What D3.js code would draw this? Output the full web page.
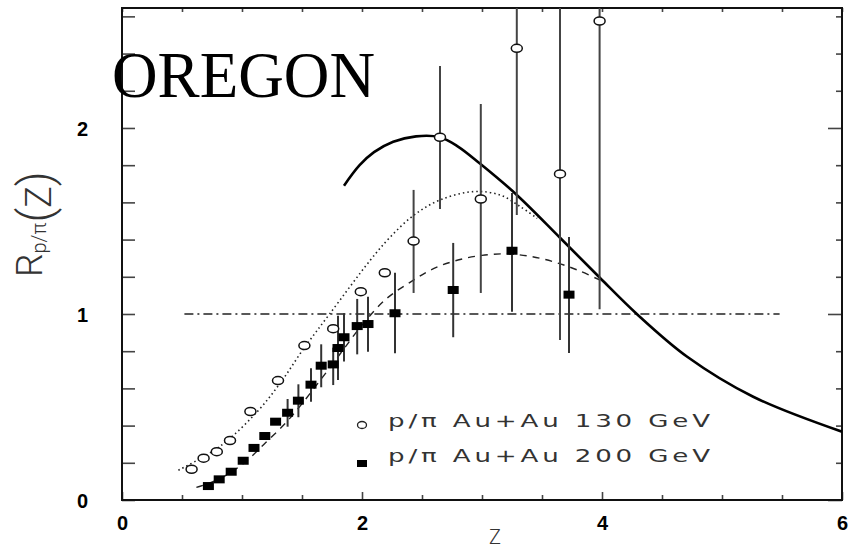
<!DOCTYPE html>
<html><head><meta charset="utf-8">
<script src="https://cdn.jsdelivr.net/npm/d3@7"></script>
<style>body{margin:0;background:#fff}</style>
</head><body>
<svg id="c" width="852" height="549"></svg>
<script>
// ---- data ----
const z130 = [0.58, 0.68, 0.79, 0.90, 1.07, 1.30, 1.52, 1.76, 1.99, 2.19, 2.43, 2.65, 2.99, 3.29, 3.65, 3.98];
const r130 = [0.165, 0.225, 0.26, 0.32, 0.476, 0.642, 0.83, 0.921, 1.12, 1.222, 1.392, 1.95, 1.618, 2.428, 1.753, 2.575];
const lo130 = [null, null, null, null, null, null, null, null, null, null, 1.113, 1.565, 1.113, 1.532, 0.86, 1.025];
const hi130 = [null, null, null, null, null, null, null, null, null, null, 1.667, 2.333, 2.129, 3.32, 2.65, 4.1];

const z200 = [0.72, 0.81, 0.91, 1.01, 1.10, 1.19, 1.28, 1.38, 1.47, 1.575, 1.66, 1.76, 1.80, 1.85, 1.96, 2.05, 2.275, 2.76, 3.25, 3.725];
const r200 = [0.075, 0.111, 0.152, 0.211, 0.28, 0.344, 0.421, 0.469, 0.534, 0.62, 0.722, 0.729, 0.817, 0.875, 0.935, 0.946, 1.004, 1.129, 1.34, 1.104];
const lo200 = [null, null, null, null, null, null, null, 0.394, 0.445, 0.528, 0.606, 0.618, 0.645, 0.744, 0.783, 0.797, 0.789, 0.875, 1.012, 0.79];
const hi200 = [null, null, null, null, null, null, null, 0.543, 0.622, 0.708, 0.837, 0.819, 0.991, 1.004, 1.081, 1.093, 1.222, 1.382, 1.651, 1.414];

const zSolid = [1.85, 1.98, 2.10, 2.26, 2.45, 2.65, 2.80, 2.98, 3.29, 3.65, 3.98, 4.29, 4.71, 5.26, 6.0];
const rSolid = [1.69, 1.80, 1.87, 1.926, 1.955, 1.95, 1.90, 1.81, 1.64, 1.41, 1.196, 1.0, 0.77, 0.555, 0.367];

const zDot = [0.47, 0.82, 1.12, 1.32, 1.51, 1.73, 2.07, 2.23, 2.43, 2.65, 2.93, 3.15, 3.32, 3.46];
const rDot = [0.16, 0.29, 0.47, 0.63, 0.81, 1.0, 1.29, 1.41, 1.53, 1.613, 1.658, 1.64, 1.577, 1.514];

const zDash = [0.62, 0.80, 1.0, 1.2, 1.4, 1.6, 1.8, 2.0, 2.2, 2.4, 2.6, 2.8, 3.0, 3.2, 3.4, 3.6, 3.8, 3.98];
const rDash = [0.068, 0.11, 0.19, 0.31, 0.44, 0.60, 0.77, 0.94, 1.08, 1.17, 1.245, 1.29, 1.315, 1.323, 1.31, 1.28, 1.235, 1.183];

const refLine = [0.52, 5.48];   // z-range of the R = 1 reference line
const refValue = 1;

const xTickLabels = [0, 2, 4, 6];
const yTickLabels = [0, 1, 2];
const legendLabels = ["p/\u03c0 Au+Au 130 GeV", "p/\u03c0 Au+Au 200 GeV"];
const titleText = "OREGON";

// ---- drawing ----
const svg = d3.select("#c");
const L = 122, R = 842, T = 8, B = 500;
const x = d3.scaleLinear().domain([0, 6]).range([L, R]);
const y = d3.scaleLinear().domain([0, 2.645]).range([B, T]);

svg.append("defs").append("clipPath").attr("id", "clip")
  .append("rect").attr("x", L).attr("y", T).attr("width", R - L).attr("height", B - T);

const xMinor = d3.range(0, 6.01, 0.5);
const yMinor = d3.range(0, 2.61, 0.2).map(v => +v.toFixed(2));
const isMajorX = v => Math.abs(v - Math.round(v / 2) * 2) < 1e-6;
const isMajorY = v => Math.abs(v - Math.round(v)) < 1e-6;

function styleTicks(g) {
  g.select(".domain").remove();
  g.selectAll(".tick line").attr("stroke", "#444").attr("stroke-width", 1.6);
}
svg.append("g").attr("transform", `translate(${L},0)`)
  .call(d3.axisRight(y).tickValues(yMinor).tickSize(13).tickFormat(""))
  .call(styleTicks);
svg.append("g").attr("transform", `translate(${R},0)`)
  .call(d3.axisLeft(y).tickValues(yMinor).tickSize(6).tickFormat(""))
  .call(styleTicks)
  .selectAll(".tick line").attr("x2", d => isMajorY(d) ? -14 : -6);
svg.append("g").attr("transform", `translate(0,${B})`)
  .call(d3.axisTop(x).tickValues(xMinor).tickSize(5).tickFormat(""))
  .call(styleTicks)
  .selectAll(".tick line").attr("y2", d => isMajorX(d) ? -8 : -5);
svg.append("g").attr("transform", `translate(0,${T})`)
  .call(d3.axisBottom(x).tickValues(xMinor).tickSize(4).tickFormat(""))
  .call(styleTicks);

const yl = svg.append("g").attr("transform", `translate(${L},0)`)
  .call(d3.axisLeft(y).tickValues(yTickLabels).tickSize(0).tickPadding(34).tickFormat(d3.format("d")));
yl.select(".domain").remove();
yl.selectAll("text").attr("font-family", "Liberation Sans, Arial, sans-serif").attr("font-weight", "bold")
  .attr("font-size", 20).attr("fill", "#000").attr("dy", "0.36em");

const xl = svg.append("g").attr("transform", `translate(0,${B})`)
  .call(d3.axisBottom(x).tickValues(xTickLabels).tickSize(0).tickPadding(16).tickFormat(d3.format("d")));
xl.select(".domain").remove();
xl.selectAll("text").attr("font-family", "Liberation Sans, Arial, sans-serif").attr("font-weight", "bold")
  .attr("font-size", 20).attr("fill", "#000");

svg.append("rect").attr("x", L).attr("y", T).attr("width", R - L).attr("height", B - T)
  .attr("fill", "none").attr("stroke", "#111").attr("stroke-width", 2);

const plot = svg.append("g").attr("clip-path", "url(#clip)");

plot.append("line")
  .attr("x1", x(refLine[0])).attr("x2", x(refLine[1]))
  .attr("y1", y(refValue)).attr("y2", y(refValue))
  .attr("stroke", "#222").attr("stroke-width", 1.3).attr("stroke-dasharray", "9,4,2,4");

const line = d3.line().x(d => x(d[0])).y(d => y(d[1])).curve(d3.curveCatmullRom.alpha(0.5));

plot.append("path").datum(d3.zip(zDot, rDot)).attr("d", line)
  .attr("fill", "none").attr("stroke", "#222").attr("stroke-width", 1.6).attr("stroke-dasharray", "1.5,3");
plot.append("path").datum(d3.zip(zDash, rDash)).attr("d", line)
  .attr("fill", "none").attr("stroke", "#222").attr("stroke-width", 1.4).attr("stroke-dasharray", "7,6");
plot.append("path").datum(d3.zip(zSolid, rSolid)).attr("d", line)
  .attr("fill", "none").attr("stroke", "#000").attr("stroke-width", 2.6);

const d130 = z130.map((z, i) => ({ z, r: r130[i], lo: lo130[i], hi: hi130[i] }));
const d200 = z200.map((z, i) => ({ z, r: r200[i], lo: lo200[i], hi: hi200[i] }));

plot.selectAll(".eb130").data(d130.filter(d => d.lo !== null)).join("line")
  .attr("x1", d => x(d.z)).attr("x2", d => x(d.z))
  .attr("y1", d => y(d.lo)).attr("y2", d => y(d.hi))
  .attr("stroke", "#444").attr("stroke-width", 2);
plot.selectAll(".eb200").data(d200.filter(d => d.lo !== null)).join("line")
  .attr("x1", d => x(d.z)).attr("x2", d => x(d.z))
  .attr("y1", d => y(d.lo)).attr("y2", d => y(d.hi))
  .attr("stroke", "#333").attr("stroke-width", 2);

plot.selectAll(".c130").data(d130).join("ellipse")
  .attr("cx", d => x(d.z)).attr("cy", d => y(d.r)).attr("rx", 5.5).attr("ry", 4)
  .attr("fill", "#fff").attr("stroke", "#111").attr("stroke-width", 1.5);
plot.selectAll(".s200").data(d200).join("rect")
  .attr("x", d => x(d.z) - 5.5).attr("y", d => y(d.r) - 4).attr("width", 11).attr("height", 8)
  .attr("fill", "#000");

// legend
const lg = svg.append("g");
lg.append("ellipse").attr("cx", 362).attr("cy", 425).attr("rx", 4.5).attr("ry", 3.5)
  .attr("fill", "#fff").attr("stroke", "#222").attr("stroke-width", 1.3);
lg.append("rect").attr("x", 357).attr("y", 460).attr("width", 10).attr("height", 7).attr("fill", "#000");
const sx = 1.45;
lg.selectAll("text").data(legendLabels).join("text")
  .attr("transform", (d, i) => `translate(388,${427 + i * 35}) scale(${sx},1)`)
  .attr("font-family", "DejaVu Sans, sans-serif").attr("font-size", 18).attr("fill", "#333")
  .attr("textLength", 322 / sx).attr("lengthAdjust", "spacing")
  .text(d => d);

// axis titles
svg.append("text").attr("x", 495).attr("y", 544).attr("text-anchor", "middle")
  .attr("font-family", "Roboto, sans-serif").attr("font-weight", 300).attr("font-size", 20).attr("fill", "#333")
  .text("Z");

const yt = svg.append("text").attr("transform", "translate(42,277) rotate(-90)")
  .attr("font-family", "Roboto, sans-serif").attr("font-weight", 300).attr("fill", "#333");
yt.append("tspan").attr("font-size", 37).text("R");
yt.append("tspan").attr("font-size", 20).attr("dy", 4).text("p/\u03c0");
yt.append("tspan").attr("font-size", 46).attr("dy", 5).text("(");
yt.append("tspan").attr("font-size", 36).text("Z");
yt.append("tspan").attr("font-size", 46).text(")");

svg.append("text").attr("x", 112).attr("y", 97)
  .attr("font-family", "Liberation Serif, Times New Roman, serif").attr("font-size", 66).attr("fill", "#000")
  .attr("textLength", 263).attr("lengthAdjust", "spacingAndGlyphs")
  .text(titleText);
</script>
</body></html>
